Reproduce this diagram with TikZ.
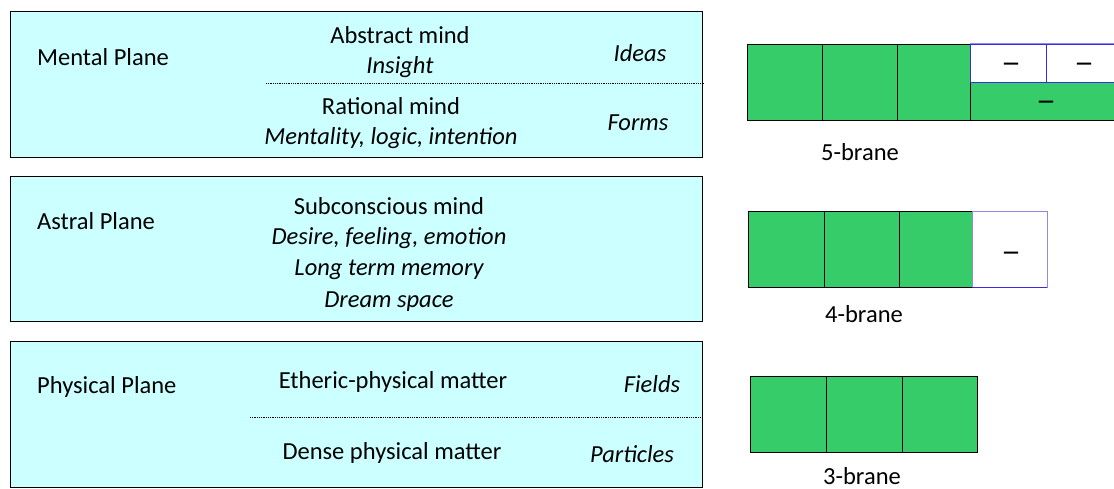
\documentclass[tikz,border=0pt]{standalone}
\usepackage{fontspec}
\setmainfont{Carlito}
\newfontfamily\dashfont{DejaVu Sans}
\definecolor{planefill}{HTML}{CCFFFF}
\definecolor{branegreen}{HTML}{36CC6A}
\definecolor{braneblue}{HTML}{3A2AE0}
\definecolor{branelight}{HTML}{8F88EE}
\begin{document}
\begin{tikzpicture}[x=1pt,y=-1pt,
  plane/.style={draw=black,fill=planefill,line width=0.9pt},
  sep/.style={densely dotted,line width=0.8pt},
  txt/.style={inner sep=0pt,font=\fontsize{24.5}{26}\selectfont},
  itxt/.style={txt,font=\fontsize{24.5}{26}\selectfont\itshape},
  minus/.style={inner sep=0pt,font=\dashfont\fontsize{16}{16}\selectfont\bfseries},
  gcell/.style={draw=black,fill=branegreen,line width=0.7pt},
  wcell/.style={draw=braneblue,fill=white,line width=0.7pt}]
\useasboundingbox (0,0) rectangle (1114,489);
% Mental plane
\draw[plane] (10,11) rectangle (702,157);
\coordinate (m1) at (266,83);
\coordinate (m2) at (705,83);
\draw[sep] (m1) -- (m2);
\node[txt,anchor=west] (mp) at (37,57) {Mental Plane};
\node[txt] (am) at (400,35) {Abstract mind};
\node[itxt] (ins) at (400,67) {Insight};
\node[itxt] (ide) at (640,53) {Ideas};
\node[txt] (rm) at (391,106) {Rational mind};
\node[itxt] (mli) at (391,138) {Mentality, logic, intention};
\node[itxt] (frm) at (638,123) {Forms};
% Astral plane
\draw[plane] (10,176) rectangle (702,321);
\node[txt,anchor=west] (ap) at (37,221) {Astral Plane};
\node[txt] (sm) at (389,206) {Subconscious mind};
\node[itxt] (dfe) at (389,238) {Desire, feeling, emotion};
\node[itxt] (ltm) at (389,270) {Long term memory};
\node[itxt] (ds) at (389,302) {Dream space};
% Physical plane
\draw[plane] (10,341) rectangle (702,487);
\coordinate (p1) at (250,417);
\coordinate (p2) at (702,417);
\draw[sep] (p1) -- (p2);
\node[txt,anchor=west] (pp) at (37,387) {Physical Plane};
\node[txt] (epm) at (393,382) {Etheric-physical matter};
\node[itxt] (fld) at (652,384) {Fields};
\node[txt] (dpm) at (392,453) {Dense physical matter};
\node[itxt] (prt) at (632,454) {Particles};
% 5-brane
\draw[gcell] (747,44) rectangle (822,120);
\draw[gcell] (822,44) rectangle (897,120);
\draw[gcell] (897,44) rectangle (970,120);
\draw[wcell] (970,44) rectangle (1046,82);
\draw[wcell] (1046,44) rectangle (1116,82);
\draw[branelight,line width=1pt] (970,44) -- (1114,44);
\fill[branegreen] (970,82) rectangle (1114,120);
\draw[black,line width=0.7pt] (1114,120) -- (970,120) -- (970,82);
\draw[braneblue,line width=0.7pt] (970,82) -- (1114,82);
\node[minus] (f1) at (1011,66) {—};
\node[minus] (f2) at (1084,66) {—};
\node[minus] (f3) at (1046,104) {—};
\node[txt] (l5) at (860,152) {5-brane};
% 4-brane
\draw[gcell] (748,211) rectangle (824,287);
\draw[gcell] (824,211) rectangle (899,287);
\draw[gcell] (899,211) rectangle (972,287);
\draw[wcell,draw=branelight] (972,211) rectangle (1047,287);
\draw[braneblue,line width=0.7pt] (972,287) -- (1047,287);
\node[minus] (g1) at (1011,255) {—};
\node[txt] (l4) at (864,314) {4-brane};
% 3-brane
\draw[gcell] (750,376) rectangle (826,452);
\draw[gcell] (826,376) rectangle (902,452);
\draw[gcell] (902,376) rectangle (977,452);
\node[txt] (l3) at (862,476) {3-brane};
\end{tikzpicture}
\end{document}
